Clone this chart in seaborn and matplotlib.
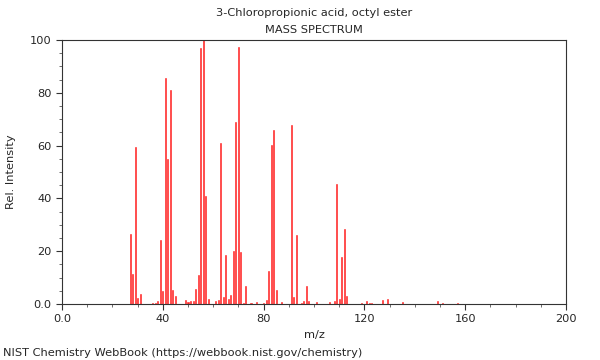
import matplotlib
matplotlib.use("Agg")
import matplotlib.pyplot as plt
import seaborn as sns
import pandas as pd
from matplotlib.ticker import MultipleLocator, FixedLocator, FixedFormatter

mz = [27, 28, 29, 30, 31, 36, 37, 38, 39, 40, 41, 42, 43, 44, 45, 49, 50, 51, 52,
      53, 54, 55, 56, 57, 58, 61, 62, 63, 64, 65, 66, 67, 68, 69, 70, 71, 72, 73,
      75, 77, 80, 81, 82, 83, 84, 85, 87, 91, 92, 93, 95, 96, 97, 98, 101, 106,
      108, 109, 110, 111, 112, 113, 119, 121, 122, 123, 127, 129, 135, 149, 151, 157]
intensity = [26.5, 11.2, 59.3, 2.4, 3.8, 0.5, 0.5, 1.0, 24.2, 4.8, 85.5, 55.0, 81.0,
             5.3, 3.0, 1.5, 0.6, 1.2, 1.2, 5.7, 11.1, 96.8, 100.0, 40.9, 1.8, 1.0,
             1.5, 61.0, 2.5, 18.4, 1.8, 3.4, 20.2, 68.9, 97.2, 19.7, 0.5, 6.8, 0.3,
             0.8, 0.5, 1.5, 12.5, 60.2, 65.9, 5.3, 0.7, 67.8, 2.5, 26.1, 0.5, 1.0,
             6.9, 1.3, 0.8, 0.7, 1.0, 45.3, 2.0, 17.7, 28.4, 3.0, 0.5, 1.2, 0.3,
             0.5, 1.5, 2.0, 0.8, 1.3, 0.5, 0.3]

title_line1 = "3-Chloropropionic acid, octyl ester"
title_line2 = "MASS SPECTRUM"
footer = "NIST Chemistry WebBook (https://webbook.nist.gov/chemistry)"
x_ticks = [0, 40, 80, 120, 160, 200]
x_tick_labels = ["0.0", "40", "80", "120", "160", "200"]
y_ticks = [0, 20, 40, 60, 80, 100]
y_tick_labels = ["0.0", "20", "40", "60", "80", "100"]

sns.set_style("white")
plt.rcParams['font.family'] = ['DejaVu Sans']

df = pd.DataFrame({"mz": mz, "intensity": intensity})

fig = plt.figure(figsize=(6, 3.6), dpi=100)
ax = fig.add_axes([62/600, 1 - 304/360, 504/600, 264/360])

sns.barplot(data=df, x="mz", y="intensity", native_scale=True, width=0.4,
            color="#ff2020", saturation=1, linewidth=0.4, edgecolor="#ff2020",
            ax=ax)

ax.set_xlim(0, 200)
ax.set_ylim(0, 100)
ax.xaxis.set_major_locator(FixedLocator(x_ticks))
ax.xaxis.set_major_formatter(FixedFormatter(x_tick_labels))
ax.yaxis.set_major_locator(FixedLocator(y_ticks))
ax.yaxis.set_major_formatter(FixedFormatter(y_tick_labels))
ax.xaxis.set_minor_locator(MultipleLocator(10))
ax.yaxis.set_minor_locator(MultipleLocator(5))
ax.tick_params(axis="both", which="major", direction="out", length=4, width=0.8,
               labelsize=8.2, color="#333333", bottom=True, left=True)
ax.tick_params(axis="both", which="minor", direction="out", length=2, width=0.6,
               color="#555555", bottom=True, left=True)
for s in ax.spines.values():
    s.set_color("#333333")
    s.set_linewidth(0.8)

ax.set_xlabel("m/z", fontsize=8.2)
ax.set_ylabel("Rel. Intensity", fontsize=8.2)
ax.yaxis.set_label_coords(-(62 - 16) / 504, 0.5)
cx = (62 + 566) / 2 / 600
fig.text(cx, 1 - 13/360, title_line1, ha="center", va="center", fontsize=8.2)
fig.text(cx, 1 - 30/360, title_line2, ha="center", va="center", fontsize=8.2)
fig.text(3/600, 1 - 353/360, footer, ha="left", va="center", fontsize=8.2)

fig.savefig("out.png", dpi=100)
